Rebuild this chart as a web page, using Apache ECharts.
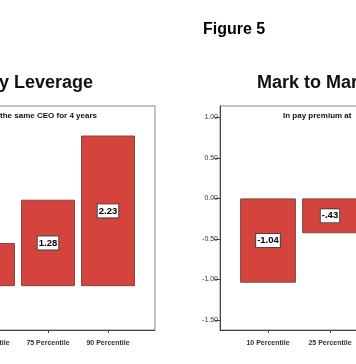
<!DOCTYPE html>
<html><head><meta charset="utf-8">
<script src="https://cdn.jsdelivr.net/npm/echarts@6/dist/echarts.min.js"></script>
<style>html,body{margin:0;padding:0;background:#fff;overflow:hidden;width:356px;height:364px}#c{position:absolute;left:-200px;top:0;width:800px;height:364px}</style>
</head><body><div id="c"></div>
<script>
const categories = ["10 Percentile","25 Percentile","50 Percentile","75 Percentile","90 Percentile"];
const leftValues = [null, null, 0.64, 1.28, 2.23];
const rightValues = [-1.04, -0.43, null, null, null];
const figureTitle = "Figure 5";
const leftTitle = "Pay Leverage";
const rightTitle = "Mark to Market Leverage";
const leftSubtitle = "In pay premium at firms with the same CEO for 4 years";
const rightSubtitle = "In pay premium at  firms with the same CEO for 4 years";
const leftYTicks = {min: -0.5, max: 2.5, interval: 0.5};
const rightYTicks = {min: -1.5, max: 1.0, interval: 0.5};

const FONT = "'Liberation Sans', Arial, sans-serif";
const fmt = v => {
  let s = Number(v).toFixed(2);
  return s.replace(/^(-?)0\./, '$1.');
};

// container is 800px wide, shifted 200px left of the window
const frameL = {left: 11, right: 445, top: 106, bottom: 34};
const dataL = {left: 28, right: 462, top: 117.3, bottom: 44};
const frameR = {left: 420, right: 36, top: 106, bottom: 34};
const dataR = {left: 437, right: 53, top: 117.3, bottom: 44};

function frameAxes(gi){
  return {
    x: {type:'value', gridIndex: gi, min:0, max:1, axisLine:{show:true, onZero:false, lineStyle:{color:'#444', width:1}}, axisTick:{show:false}, axisLabel:{show:false}, splitLine:{show:false}},
    y: {type:'value', gridIndex: gi, min:0, max:1, axisLine:{show:true, onZero:false, lineStyle:{color:'#444', width:1}}, axisTick:{show:false}, axisLabel:{show:false}, splitLine:{show:false}}
  };
}
function dataAxes(gi, ticks){
  return {
    x: {type:'category', gridIndex: gi, data: categories, offset: 10,
        axisLine:{show:false, onZero:false}, axisTick:{show:true, alignWithLabel:true, length:3, lineStyle:{color:'#444'}},
        axisLabel:{interval:0, fontFamily: FONT, fontSize: 7, fontWeight:'bold', color:'#333', margin: 10}},
    y: {type:'value', gridIndex: gi, min: ticks.min, max: ticks.max, interval: ticks.interval, offset: 17,
        axisLine:{show:false, onZero:false}, axisTick:{show:true, length:5, lineStyle:{color:'#444'}},
        splitLine:{show:false},
        axisLabel:{fontFamily: FONT, fontSize: 7, color:'#333', margin: 2, formatter: v => v.toFixed(2)}}
  };
}
const fL = frameAxes(0), dL = dataAxes(1, leftYTicks), fR = frameAxes(2), dR = dataAxes(3, rightYTicks);

function barSeries(xi, values){
  return {
    type:'bar', xAxisIndex: xi, yAxisIndex: xi, data: values, barCategoryGap: '10%',
    itemStyle:{color:'#d4443c', borderColor:'#7a4a46', borderWidth:1},
    label:{show:true, position:'inside', formatter: p => fmt(p.value),
      fontFamily: FONT, fontSize: 9.5, fontWeight:'bold', color:'#000',
      backgroundColor:'#fff', borderColor:'#444', borderWidth:1, padding:[2,1,1,1]},
    emphasis:{disabled:true}, animation:false
  };
}

const chart = echarts.init(document.getElementById('c'), null, {renderer:'canvas'});
chart.setOption({
  animation:false,
  backgroundColor:'#fff',
  title:[
    {text: figureTitle, left: 403, top: 22, padding: 0, textStyle:{fontFamily: FONT, fontSize: 16, fontWeight: 'bold', color:'#000'}},
    {text: leftTitle, right: 507, top: 74, padding: 0, textStyle:{fontFamily: FONT, fontSize: 18, fontWeight: 'bold', color:'#111'}},
    {text: rightTitle, left: 457, top: 74, padding: 0, textStyle:{fontFamily: FONT, fontSize: 18, fontWeight: 'bold', color:'#111'}},
    {text: leftSubtitle, right: 503, top: 112, padding: 0, textStyle:{fontFamily: FONT, fontSize: 8, fontWeight: 'bold', color:'#111'}},
    {text: rightSubtitle, left: 483, top: 112, padding: 0, textStyle:{fontFamily: FONT, fontSize: 8, fontWeight: 'bold', color:'#111'}}
  ],
  grid:[
    Object.assign({show:true, borderColor:'#888', borderWidth:1, backgroundColor:'#fff'}, frameL),
    Object.assign({show:false}, dataL),
    Object.assign({show:true, borderColor:'#888', borderWidth:1, backgroundColor:'#fff'}, frameR),
    Object.assign({show:false}, dataR)
  ],
  xAxis:[fL.x, dL.x, fR.x, dR.x],
  yAxis:[fL.y, dL.y, fR.y, dR.y],
  series:[barSeries(1, leftValues), barSeries(3, rightValues)]
});
</script></body></html>
